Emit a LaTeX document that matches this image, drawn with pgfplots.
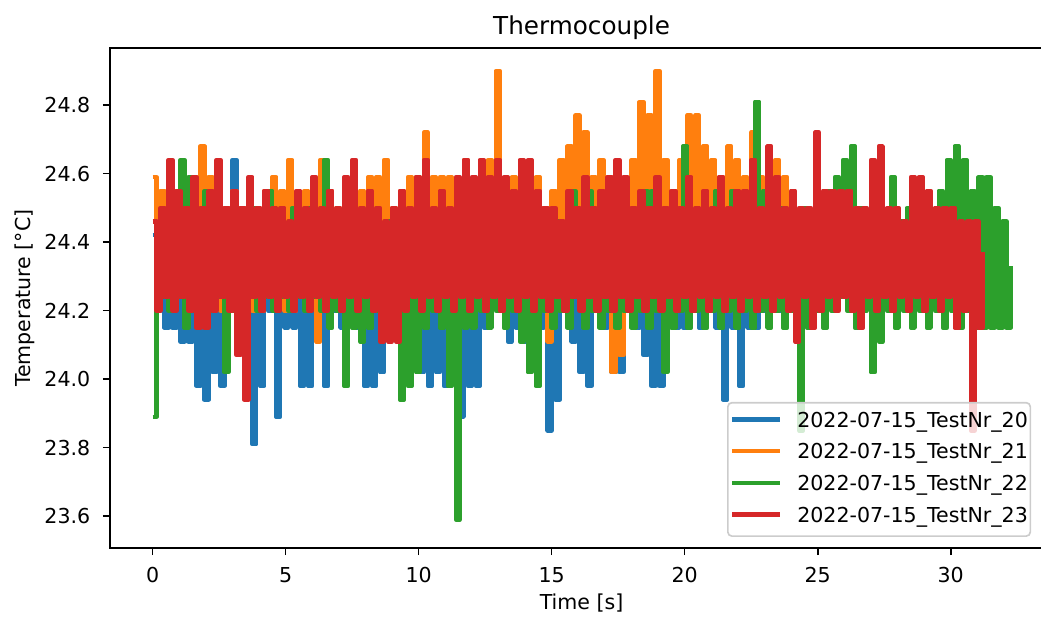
\documentclass[border=0pt]{standalone}
\usepackage{fontspec}
\setmainfont{DejaVu Sans}
\usepackage{pgfplots}
\usepackage{pgfplotstable}
\pgfplotsset{compat=1.18}
\definecolor{c0}{RGB}{31,119,180}
\definecolor{c1}{RGB}{255,127,14}
\definecolor{c2}{RGB}{44,160,44}
\definecolor{c3}{RGB}{214,39,40}

% one reading every 0.15 s
\pgfplotstableread[row sep=\\]{y\\
24.42\\ 24.20\\ 24.37\\ 24.15\\ 24.42\\ 24.15\\ 24.37\\ 24.11\\ 24.33\\ 24.11\\ 24.42\\ 23.98\\ 24.37\\ 23.94\\ 24.33\\ 24.02\\ 24.42\\ 23.98\\ 24.37\\ 24.20\\
24.64\\ 24.15\\ 24.42\\ 24.15\\ 24.37\\ 23.81\\ 24.33\\ 23.98\\ 24.42\\ 24.20\\ 24.37\\ 23.89\\ 24.42\\ 24.15\\ 24.37\\ 24.15\\ 24.33\\ 23.98\\ 24.42\\ 23.98\\
24.37\\ 24.15\\ 24.42\\ 23.98\\ 24.33\\ 24.20\\ 24.42\\ 24.15\\ 24.37\\ 24.20\\ 24.46\\ 24.15\\ 24.37\\ 23.98\\ 24.33\\ 23.98\\ 24.42\\ 24.02\\ 24.37\\ 24.20\\
24.42\\ 24.15\\ 24.33\\ 24.15\\ 24.37\\ 24.20\\ 24.42\\ 24.02\\ 24.37\\ 23.98\\ 24.33\\ 24.02\\ 24.42\\ 23.98\\ 24.37\\ 24.15\\ 24.42\\ 23.89\\ 24.33\\ 23.98\\
24.37\\ 23.98\\ 24.42\\ 24.15\\ 24.37\\ 24.24\\ 24.46\\ 24.20\\ 24.37\\ 24.11\\ 24.33\\ 24.15\\ 24.42\\ 24.11\\ 24.37\\ 24.20\\ 24.42\\ 24.15\\ 24.37\\ 23.85\\
24.42\\ 23.94\\ 24.37\\ 24.20\\ 24.33\\ 24.11\\ 24.42\\ 24.02\\ 24.37\\ 23.98\\ 24.42\\ 24.20\\ 24.37\\ 24.15\\ 24.42\\ 24.02\\ 24.33\\ 24.02\\ 24.42\\ 24.20\\
24.37\\ 24.15\\ 24.42\\ 24.07\\ 24.37\\ 23.98\\ 24.33\\ 23.98\\ 24.42\\ 24.20\\ 24.37\\ 24.15\\ 24.42\\ 24.15\\ 24.37\\ 24.20\\ 24.46\\ 24.15\\ 24.37\\ 24.20\\
24.42\\ 24.15\\ 24.37\\ 23.94\\ 24.42\\ 24.15\\ 24.37\\ 23.98\\ 24.33\\ 24.15\\ 24.42\\ 24.15\\ 24.37\\ 24.20\\ 24.42\\ 24.24\\ 24.37\\ 24.20\\ 24.42\\ 24.20\\
}\tblue

\pgfplotstableread[row sep=\\]{y\\
24.59\\ 24.33\\ 24.55\\ 24.29\\ 24.59\\ 24.33\\ 24.55\\ 24.37\\ 24.50\\ 24.29\\ 24.59\\ 24.33\\ 24.68\\ 24.29\\ 24.59\\ 24.37\\ 24.55\\ 24.20\\ 24.50\\ 24.33\\
24.55\\ 24.29\\ 24.50\\ 24.37\\ 24.55\\ 24.20\\ 24.50\\ 24.20\\ 24.55\\ 24.33\\ 24.59\\ 24.29\\ 24.55\\ 24.20\\ 24.64\\ 24.20\\ 24.50\\ 24.29\\ 24.55\\ 24.33\\
24.50\\ 24.11\\ 24.64\\ 24.33\\ 24.55\\ 24.29\\ 24.50\\ 24.37\\ 24.55\\ 24.24\\ 24.50\\ 24.33\\ 24.55\\ 24.29\\ 24.59\\ 24.37\\ 24.59\\ 24.29\\ 24.64\\ 24.33\\
24.50\\ 24.29\\ 24.55\\ 24.37\\ 24.59\\ 24.33\\ 24.59\\ 24.29\\ 24.72\\ 24.37\\ 24.59\\ 24.29\\ 24.59\\ 24.33\\ 24.59\\ 24.24\\ 24.55\\ 24.33\\ 24.64\\ 24.29\\
24.50\\ 24.37\\ 24.55\\ 24.29\\ 24.64\\ 24.33\\ 24.90\\ 24.37\\ 24.50\\ 24.29\\ 24.59\\ 24.33\\ 24.55\\ 24.29\\ 24.59\\ 24.37\\ 24.59\\ 24.33\\ 24.50\\ 24.11\\
24.55\\ 24.33\\ 24.64\\ 24.29\\ 24.68\\ 24.37\\ 24.77\\ 24.42\\ 24.72\\ 24.33\\ 24.59\\ 24.29\\ 24.64\\ 24.37\\ 24.59\\ 24.02\\ 24.59\\ 24.07\\ 24.55\\ 24.33\\
24.64\\ 24.42\\ 24.81\\ 24.46\\ 24.77\\ 24.42\\ 24.90\\ 24.37\\ 24.64\\ 24.33\\ 24.55\\ 24.29\\ 24.64\\ 24.37\\ 24.77\\ 24.42\\ 24.77\\ 24.33\\ 24.68\\ 24.37\\
24.64\\ 24.33\\ 24.59\\ 24.29\\ 24.68\\ 24.37\\ 24.64\\ 24.33\\ 24.59\\ 24.29\\ 24.72\\ 24.37\\ 24.59\\ 24.33\\ 24.59\\ 24.42\\ 24.64\\ 24.33\\ 24.59\\ 24.37\\
}\torange

\pgfplotstableread[row sep=\\]{y\\
23.89\\ 24.42\\ 24.24\\ 24.46\\ 24.20\\ 24.50\\ 24.24\\ 24.64\\ 24.15\\ 24.59\\ 24.20\\ 24.46\\ 24.24\\ 24.55\\ 24.20\\ 24.46\\ 24.24\\ 24.42\\ 24.02\\ 24.46\\
24.20\\ 24.42\\ 24.11\\ 24.46\\ 24.24\\ 24.50\\ 24.20\\ 24.42\\ 24.24\\ 24.55\\ 24.20\\ 24.46\\ 24.24\\ 24.42\\ 24.20\\ 24.50\\ 24.24\\ 24.46\\ 24.20\\ 24.50\\
24.24\\ 24.46\\ 24.20\\ 24.64\\ 24.15\\ 24.42\\ 24.20\\ 24.46\\ 23.98\\ 24.42\\ 24.15\\ 24.46\\ 24.11\\ 24.42\\ 24.15\\ 24.46\\ 24.20\\ 24.42\\ 24.15\\ 24.46\\
24.15\\ 24.42\\ 23.94\\ 24.46\\ 23.98\\ 24.42\\ 24.02\\ 24.46\\ 24.15\\ 24.42\\ 24.20\\ 24.37\\ 24.15\\ 24.42\\ 23.98\\ 24.37\\ 23.59\\ 24.42\\ 24.15\\ 24.37\\
24.15\\ 24.42\\ 24.20\\ 24.37\\ 24.15\\ 24.46\\ 24.20\\ 24.42\\ 24.15\\ 24.37\\ 24.20\\ 24.46\\ 24.11\\ 24.42\\ 24.02\\ 24.37\\ 23.98\\ 24.46\\ 24.20\\ 24.42\\
24.15\\ 24.46\\ 24.20\\ 24.42\\ 24.15\\ 24.55\\ 24.24\\ 24.42\\ 24.15\\ 24.55\\ 24.20\\ 24.46\\ 24.15\\ 24.42\\ 24.20\\ 24.46\\ 24.15\\ 24.42\\ 24.20\\ 24.46\\
24.15\\ 24.42\\ 24.20\\ 24.55\\ 24.15\\ 24.55\\ 24.20\\ 24.42\\ 24.02\\ 24.46\\ 24.15\\ 24.42\\ 24.20\\ 24.68\\ 24.15\\ 24.46\\ 24.20\\ 24.42\\ 24.15\\ 24.46\\
24.20\\ 24.55\\ 24.15\\ 24.46\\ 24.20\\ 24.55\\ 24.15\\ 24.46\\ 24.20\\ 24.50\\ 24.15\\ 24.81\\ 24.20\\ 24.55\\ 24.15\\ 24.46\\ 24.20\\ 24.50\\ 24.15\\ 24.46\\
24.20\\ 24.46\\ 23.85\\ 24.50\\ 24.15\\ 24.46\\ 24.20\\ 24.50\\ 24.15\\ 24.55\\ 24.20\\ 24.59\\ 24.24\\ 24.64\\ 24.20\\ 24.68\\ 24.15\\ 24.50\\ 24.20\\ 24.46\\
24.02\\ 24.50\\ 24.11\\ 24.46\\ 24.20\\ 24.59\\ 24.15\\ 24.46\\ 24.20\\ 24.50\\ 24.15\\ 24.46\\ 24.20\\ 24.50\\ 24.15\\ 24.46\\ 24.20\\ 24.55\\ 24.15\\ 24.64\\
24.20\\ 24.68\\ 24.15\\ 24.64\\ 24.20\\ 24.55\\ 24.15\\ 24.59\\ 24.15\\ 24.59\\ 24.15\\ 24.50\\ 24.15\\ 24.46\\ 24.15\\ 24.33\\
}\tgreen

\pgfplotstableread[row sep=\\]{y\\
24.46\\ 24.20\\ 24.50\\ 24.24\\ 24.64\\ 24.20\\ 24.55\\ 24.24\\ 24.50\\ 24.20\\ 24.59\\ 24.15\\ 24.50\\ 24.15\\ 24.55\\ 24.20\\ 24.64\\ 24.24\\ 24.50\\ 24.20\\
24.55\\ 24.07\\ 24.50\\ 23.94\\ 24.59\\ 24.24\\ 24.50\\ 24.20\\ 24.55\\ 24.24\\ 24.50\\ 24.20\\ 24.50\\ 24.24\\ 24.46\\ 24.20\\ 24.55\\ 24.24\\ 24.50\\ 24.20\\
24.59\\ 24.24\\ 24.50\\ 24.20\\ 24.55\\ 24.24\\ 24.50\\ 24.20\\ 24.59\\ 24.24\\ 24.64\\ 24.20\\ 24.50\\ 24.24\\ 24.55\\ 24.20\\ 24.50\\ 24.11\\ 24.46\\ 24.11\\
24.50\\ 24.11\\ 24.55\\ 24.20\\ 24.50\\ 24.24\\ 24.59\\ 24.20\\ 24.64\\ 24.24\\ 24.50\\ 24.20\\ 24.55\\ 24.24\\ 24.50\\ 24.20\\ 24.59\\ 24.24\\ 24.64\\ 24.20\\
24.59\\ 24.24\\ 24.64\\ 24.20\\ 24.59\\ 24.24\\ 24.64\\ 24.20\\ 24.59\\ 24.24\\ 24.55\\ 24.20\\ 24.64\\ 24.24\\ 24.64\\ 24.20\\ 24.55\\ 24.24\\ 24.50\\ 24.20\\
24.50\\ 24.24\\ 24.46\\ 24.20\\ 24.55\\ 24.24\\ 24.50\\ 24.20\\ 24.59\\ 24.24\\ 24.50\\ 24.20\\ 24.55\\ 24.24\\ 24.59\\ 24.20\\ 24.64\\ 24.24\\ 24.59\\ 24.20\\
24.50\\ 24.24\\ 24.55\\ 24.20\\ 24.50\\ 24.24\\ 24.59\\ 24.20\\ 24.50\\ 24.24\\ 24.55\\ 24.20\\ 24.50\\ 24.24\\ 24.59\\ 24.20\\ 24.50\\ 24.24\\ 24.55\\ 24.20\\
24.50\\ 24.24\\ 24.59\\ 24.20\\ 24.50\\ 24.24\\ 24.55\\ 24.20\\ 24.55\\ 24.24\\ 24.64\\ 24.20\\ 24.50\\ 24.24\\ 24.68\\ 24.20\\ 24.59\\ 24.24\\ 24.50\\ 24.20\\
24.55\\ 24.11\\ 24.50\\ 24.24\\ 24.50\\ 24.15\\ 24.72\\ 24.20\\ 24.55\\ 24.24\\ 24.55\\ 24.20\\ 24.55\\ 24.24\\ 24.55\\ 24.20\\ 24.50\\ 24.15\\ 24.50\\ 24.24\\
24.64\\ 24.20\\ 24.68\\ 24.24\\ 24.50\\ 24.20\\ 24.50\\ 24.24\\ 24.46\\ 24.20\\ 24.59\\ 24.24\\ 24.59\\ 24.20\\ 24.55\\ 24.24\\ 24.50\\ 24.20\\ 24.50\\ 24.24\\
24.50\\ 24.15\\ 24.46\\ 24.20\\ 24.46\\ 23.85\\ 24.46\\ 24.15\\ 24.37\\
}\tred

\begin{document}
\begin{tikzpicture}
\begin{axis}[
  at={(0,0)}, anchor=south west,
  scale only axis, width=458.7pt, height=243.0pt,
  xmin=-1.6, xmax=33.85, ymin=23.507, ymax=24.966,
  xtick={0,5,10,15,20,25,30},
  ytick={23.6,23.8,24.0,24.2,24.4,24.6,24.8},
  /pgf/number format/assume math mode=true,
  tick align=outside, tick pos=left,
  major tick length=3.5pt,
  every tick/.style={black, line width=0.8pt},
  axis line style={line width=0.8pt},
  tick label style={font=\fontsize{10}{12}\selectfont},
  xticklabel style={anchor=north, inner sep=0pt, yshift=-5.7pt},
  yticklabel style={/pgf/number format/fixed, /pgf/number format/fixed zerofill,
    /pgf/number format/precision=1, anchor=east, inner sep=0pt, xshift=-5.9pt},
  label style={font=\fontsize{10}{12}\selectfont},
  xlabel={Time [s]},
  ylabel={Temperature [°C]},
  xlabel style={at={(axis description cs:0.5,0)}, anchor=base, yshift=-29.7pt},
  ylabel style={at={(axis description cs:-0.0848,0.5)}, anchor=base},
  title={Thermocouple},
  title style={at={(axis description cs:0.5,1)}, anchor=base, yshift=0.8pt, font=\fontsize{12}{14}\selectfont},
  legend cell align=left,
  legend image code/.code={\draw[#1, line width=2.1pt] (0pt,1.1pt) -- (22.9pt,1.1pt);},
  legend style={at={(axis description cs:0.6542,0.022)}, anchor=south west,
    draw=black!20, line width=0.8pt, rounded corners=2pt, fill=white, fill opacity=0.8,
    text opacity=1, inner xsep=1.2pt, inner ysep=4.4pt, row sep=5.5pt, column sep=7.6pt,
    nodes={inner sep=0pt, text height=7.5pt, text depth=2.4pt},
    font=\fontsize{10}{12}\selectfont},
  every axis plot/.append style={const plot, line width=2.1pt, line join=round},
]
\addplot[c0] table[x expr=\coordindex*0.15, y=y] {\tblue};
\addplot[c1] table[x expr=\coordindex*0.15, y=y] {\torange};
\addplot[c2] table[x expr=\coordindex*0.15, y=y] {\tgreen};
\addplot[c3] table[x expr=\coordindex*0.15, y=y] {\tred};
\legend{2022-07-15\_TestNr\_20, 2022-07-15\_TestNr\_21, 2022-07-15\_TestNr\_22, 2022-07-15\_TestNr\_23}
\end{axis}
\pgfresetboundingbox
\path[use as bounding box] (-53.5pt,-33.1pt) rectangle (452.8pt,266.5pt);
\end{tikzpicture}
\end{document}
